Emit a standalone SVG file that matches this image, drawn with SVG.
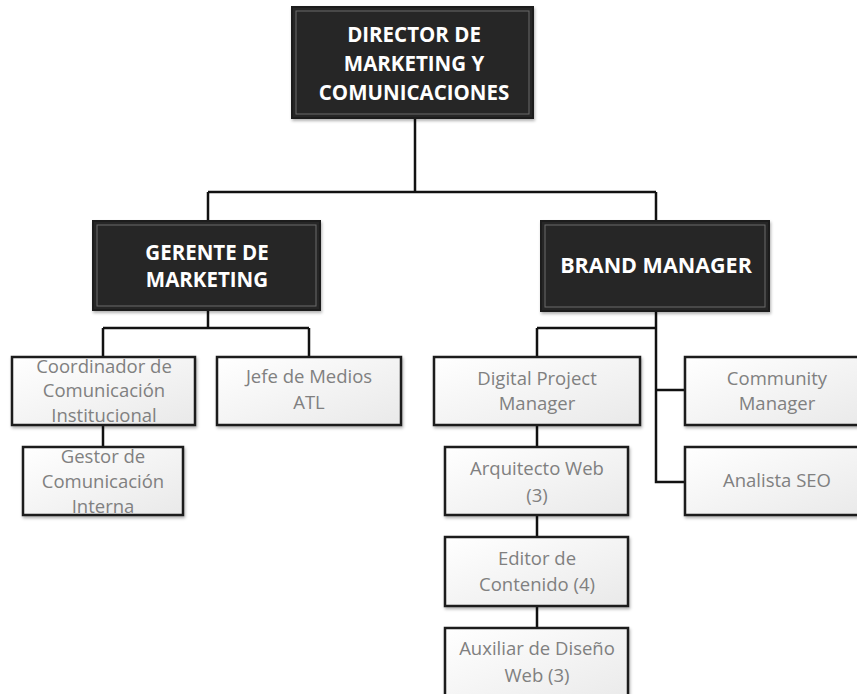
<svg xmlns="http://www.w3.org/2000/svg" width="857" height="694" viewBox="0 0 857 694">
<defs>
<linearGradient id="lg" x1="0" y1="0" x2="1" y2="1">
<stop offset="0" stop-color="#ffffff"/>
<stop offset="1" stop-color="#e9e9e9"/>
</linearGradient>
<filter id="sh" x="-10%" y="-10%" width="125%" height="130%">
<feDropShadow dx="1" dy="2" stdDeviation="1.5" flood-color="#000" flood-opacity="0.3"/>
</filter>
</defs>
<style>
.dk{fill:#262626;stroke:#1a1a1a;stroke-width:2}
.in{fill:none;stroke:#6b6b6b;stroke-width:1}
.lt{fill:url(#lg);stroke:#1a1a1a;stroke-width:2.5}
.tw{font-family:"Open Sans","Liberation Sans",sans-serif;font-weight:bold;fill:#ffffff;text-anchor:middle;font-size:20.5px}
.tg{font-family:"Open Sans","Liberation Sans",sans-serif;fill:#808080;text-anchor:middle;font-size:18.5px}
.cn{fill:none;stroke:#111;stroke-width:2.5}
</style>
<rect width="857" height="694" fill="#ffffff"/>
<g id="connectors">
<path class="cn" d="M415 118 V192 M208 192 H656 M208 192 V221 M656 192 V221"/>
<path class="cn" d="M208 310 V328 M103 328 H309 M103 328 V357 M309 328 V357 M103 425 V447"/>
<path class="cn" d="M656 311 V482 H685 M537 328 H656 M537 328 V357 M656 390 H685"/>
<path class="cn" d="M537 425 V447 M537 515 V537 M537 606 V628"/>
</g>
<g id="director">
<rect class="dk" x="292" y="7" width="241" height="111" filter="url(#sh)"/>
<rect class="in" x="296" y="11" width="233" height="103"/>
<text class="tw" x="414" y="42">DIRECTOR DE</text>
<text class="tw" x="414" y="71">MARKETING Y</text>
<text class="tw" x="414" y="100">COMUNICACIONES</text>
</g>
<g id="gerente">
<rect class="dk" x="93" y="221" width="227" height="89" filter="url(#sh)"/>
<rect class="in" x="97" y="225" width="219" height="81"/>
<text class="tw" x="207" y="260">GERENTE DE</text>
<text class="tw" x="207" y="287">MARKETING</text>
</g>
<g id="brand">
<rect class="dk" x="541" y="221" width="228" height="90" filter="url(#sh)"/>
<rect class="in" x="545" y="225" width="220" height="82"/>
<text class="tw" x="656" y="273" style="font-size:21.5px">BRAND MANAGER</text>
</g>
<g id="coordinador">
<rect class="lt" x="12" y="357" width="183" height="68" filter="url(#sh)"/>
<text class="tg" x="104" y="373">Coordinador de</text>
<text class="tg" x="104" y="397">Comunicación</text>
<text class="tg" x="104" y="422">Institucional</text>
</g>
<g id="jefe">
<rect class="lt" x="217" y="357" width="184" height="68" filter="url(#sh)"/>
<text class="tg" x="309" y="383">Jefe de Medios</text>
<text class="tg" x="309" y="409">ATL</text>
</g>
<g id="gestor">
<rect class="lt" x="23" y="447" width="160" height="68" filter="url(#sh)"/>
<text class="tg" x="103" y="463">Gestor de</text>
<text class="tg" x="103" y="488">Comunicación</text>
<text class="tg" x="103" y="513">Interna</text>
</g>
<g id="dpm">
<rect class="lt" x="434" y="357" width="206" height="68" filter="url(#sh)"/>
<text class="tg" x="537" y="385">Digital Project</text>
<text class="tg" x="537" y="410">Manager</text>
</g>
<g id="community">
<rect class="lt" x="685" y="357" width="184" height="68" filter="url(#sh)"/>
<text class="tg" x="777" y="385">Community</text>
<text class="tg" x="777" y="410">Manager</text>
</g>
<g id="seo">
<rect class="lt" x="685" y="447" width="184" height="68" filter="url(#sh)"/>
<text class="tg" x="777" y="487">Analista SEO</text>
</g>
<g id="arquitecto">
<rect class="lt" x="445" y="447" width="183" height="68" filter="url(#sh)"/>
<text class="tg" x="537" y="475">Arquitecto Web</text>
<text class="tg" x="537" y="502">(3)</text>
</g>
<g id="editor">
<rect class="lt" x="445" y="537" width="183" height="69" filter="url(#sh)"/>
<text class="tg" x="537" y="565">Editor de</text>
<text class="tg" x="537" y="591">Contenido (4)</text>
</g>
<g id="auxiliar">
<rect class="lt" x="445" y="628" width="183" height="80" filter="url(#sh)"/>
<text class="tg" x="537" y="655">Auxiliar de Diseño</text>
<text class="tg" x="537" y="682">Web (3)</text>
</g>
</svg>
